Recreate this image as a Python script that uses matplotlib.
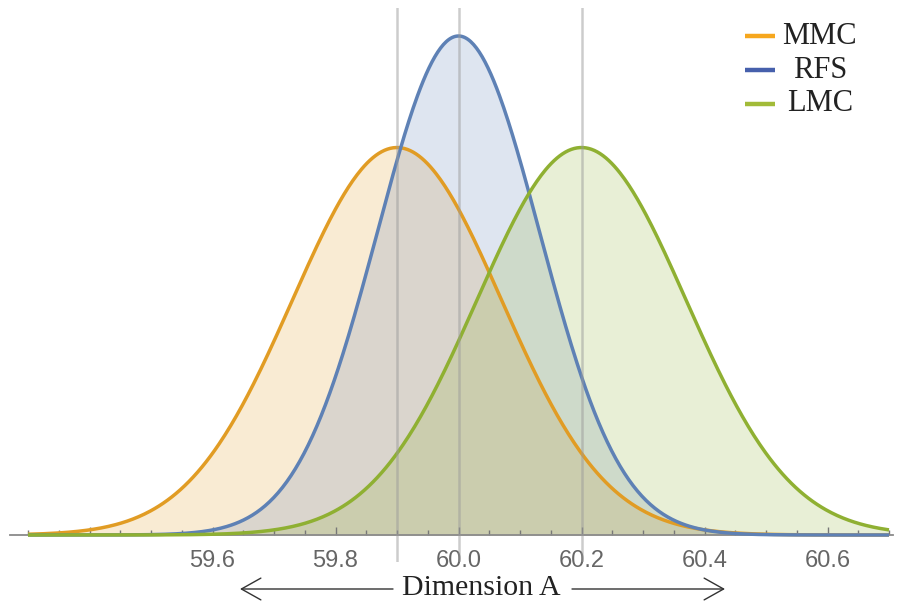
"""Three tolerance distributions along Dimension A (MMC / RFS / LMC)."""
import numpy as np
import matplotlib
matplotlib.use("Agg")
import matplotlib.pyplot as plt

# distribution parameters
names = ["MMC", "RFS", "LMC"]
means = [59.9, 60.0, 60.2]
sigmas = [0.17, 0.132, 0.17]
line_colors = ["#E19C24", "#5E81B5", "#8FB032"]
legend_colors = ["#F6A71E", "#4660AC", "#A2BB38"]

x_start, x_end = 59.3, 60.7
major_ticks = [59.4, 59.6, 59.8, 60.0, 60.2, 60.4, 60.6]
major_labels = ["", "59.6", "59.8", "60.0", "60.2", "60.4", "60.6"]
minor_ticks = np.arange(59.3, 60.701, 0.05)
guide_lines = [59.9, 60.0, 60.2]

# pixel geometry of the 898x604 reference
W, H = 898, 604
ax_left, ax_right, ax_top, ax_bottom = 10, 893, 8, 562
px_per_unit = 615.0
base_px = 535
y_scale = 499 / (1 / (sigmas[1] * np.sqrt(2 * np.pi)))

fig = plt.figure(figsize=(W / 100, H / 100), dpi=100)
ax = fig.add_axes([ax_left / W, 1 - ax_bottom / H,
                   (ax_right - ax_left) / W, (ax_bottom - ax_top) / H])

x = np.linspace(x_start, x_end, 600)
for name, mu, s, c in zip(names, means, sigmas, line_colors):
    y = np.exp(-0.5 * ((x - mu) / s) ** 2) / (s * np.sqrt(2 * np.pi))
    ax.fill_between(x, 0, y, color=c, alpha=0.2, lw=0, zorder=1)
    ax.plot(x, y, color=c, lw=2.5, zorder=3, solid_capstyle="butt")

for g in guide_lines:
    ax.axvline(g, color="#9a9a9a", lw=1.8, alpha=0.5, zorder=4)

ax.set_xlim(x_start - (28 - ax_left) / px_per_unit,
            x_start + (ax_right - 28) / px_per_unit)
ax.set_ylim(-(ax_bottom - base_px) / y_scale, (base_px - ax_top) / y_scale)

for side in ["left", "right", "top"]:
    ax.spines[side].set_visible(False)
ax.spines["bottom"].set_position(("data", 0))
ax.spines["bottom"].set_color("#8a8a8a")
ax.spines["bottom"].set_linewidth(1.3)
ax.set_yticks([])
ax.set_xticks(major_ticks)
ax.set_xticklabels(major_labels)
ax.set_xticks(minor_ticks, minor=True)
ax.tick_params(axis="x", which="major", direction="in", length=6, width=1,
               color="#777777", pad=10.5, labelsize=17, labelcolor="#666666")
ax.tick_params(axis="x", which="minor", direction="in", length=3.5, width=1,
               color="#777777")
for lab in ax.get_xticklabels():
    lab.set_family(["Liberation Sans", "DejaVu Sans"])

# legend, text centred in its column like the original
leg_rows = [0.949, 0.888, 0.827]
for name, c, yy in zip(names, legend_colors, leg_rows):
    ax.plot([0.832, 0.866], [yy, yy], transform=ax.transAxes, color=c,
            lw=3.2, solid_capstyle="butt", clip_on=False, zorder=5)
    ax.text(0.917, yy, name, transform=ax.transAxes, ha="center", va="center",
            fontsize=22, family=["Liberation Serif", "DejaVu Serif"],
            color="#222222")

# axis caption with arrows
fig.text(481 / W, 1 - 588 / H, "Dimension A", ha="center", va="center",
         fontsize=21.5, family=["Liberation Serif", "DejaVu Serif"],
         color="#222222")
arrow = dict(arrowstyle="->,head_length=0.5,head_width=0.28",
             color="#333333", lw=1.0, mutation_scale=28, shrinkA=0, shrinkB=0)
ax.annotate("", xy=(240 / W, 1 - 589 / H), xytext=(393 / W, 1 - 589 / H),
            xycoords="figure fraction", textcoords="figure fraction",
            arrowprops=arrow, annotation_clip=False)
ax.annotate("", xy=(725 / W, 1 - 589 / H), xytext=(572 / W, 1 - 589 / H),
            xycoords="figure fraction", textcoords="figure fraction",
            arrowprops=arrow, annotation_clip=False)

fig.savefig("out.png", dpi=100)
plt.close(fig)
